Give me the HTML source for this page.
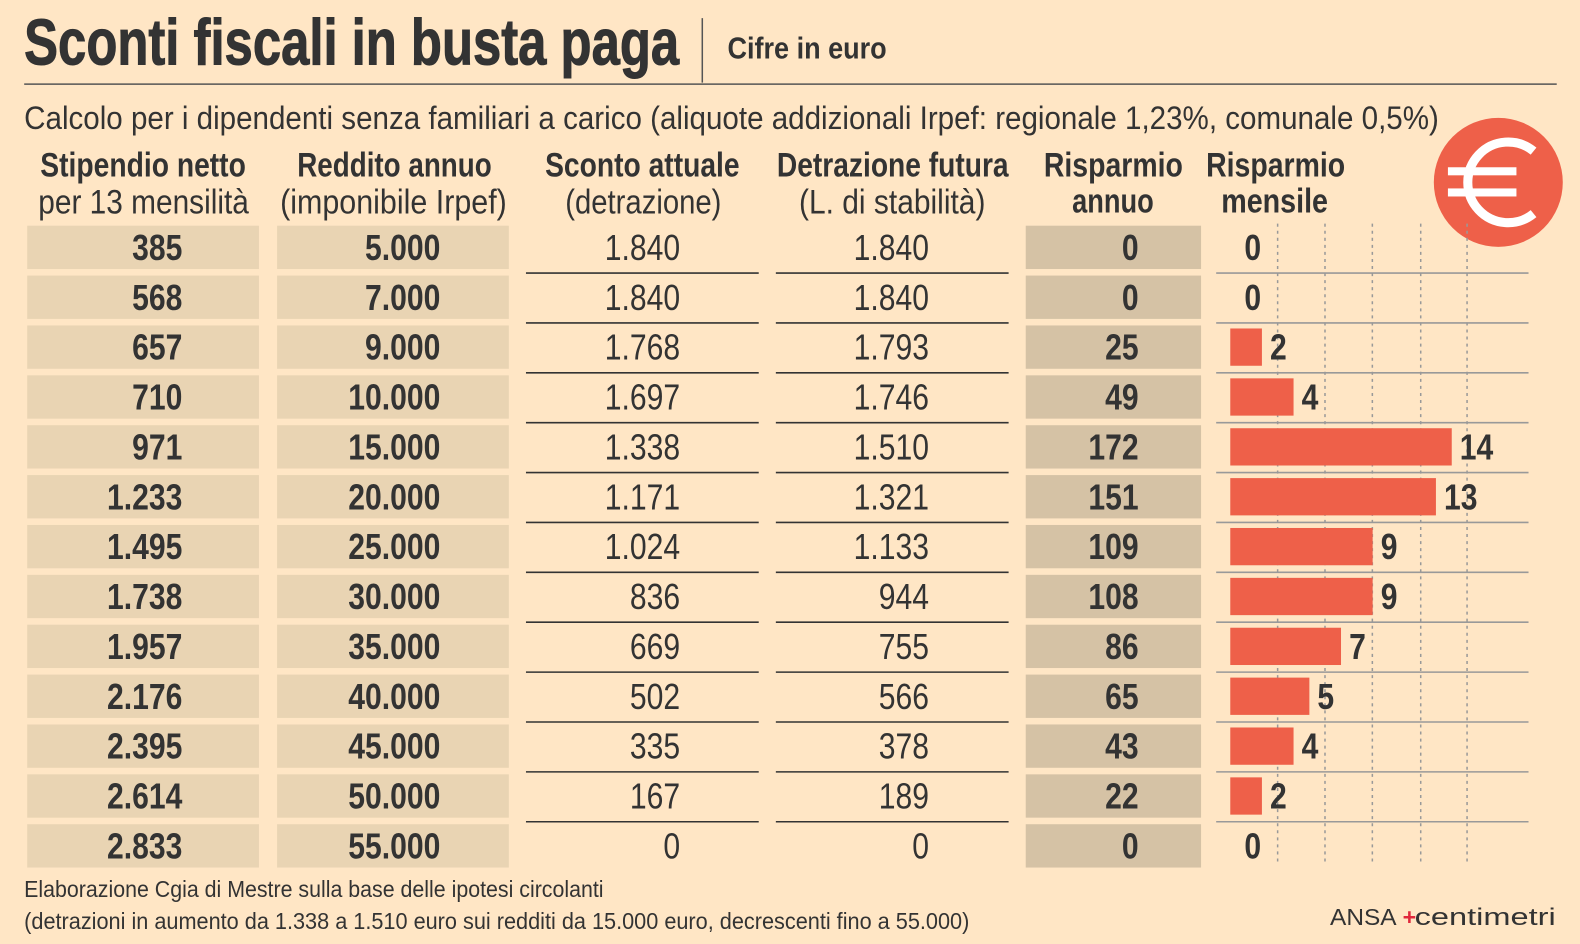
<!DOCTYPE html>
<html><head><meta charset="utf-8"><style>
html,body{margin:0;padding:0;background:#FFE6C5;}
svg{display:block;font-family:"Liberation Sans",sans-serif;}
.b{font-weight:bold;fill:#333;}
.n{fill:#333;}
</style></head><body>
<svg width="1580" height="944" viewBox="0 0 1580 944" xmlns="http://www.w3.org/2000/svg">
<rect width="1580" height="944" fill="#FFE6C5"/>
<g transform="scale(1.0076)">
<text x="24" y="64" class="b" font-size="64" textLength="650" lengthAdjust="spacingAndGlyphs" stroke="#333" stroke-width="1">Sconti fiscali in busta paga</text>
<line x1="697" y1="18" x2="697" y2="82" stroke="#555" stroke-width="1.5"/>
<text x="722" y="58" class="b" font-size="30" textLength="158" lengthAdjust="spacingAndGlyphs">Cifre in euro</text>
<line x1="24" y1="83.5" x2="1545" y2="83.5" stroke="#555" stroke-width="1.5"/>
<text x="24" y="128" class="n" font-size="32" textLength="1404" lengthAdjust="spacingAndGlyphs">Calcolo per i dipendenti senza familiari a carico (aliquote addizionali Irpef: regionale 1,23%, comunale 0,5%)</text>

<g font-size="34">
<text x="40" y="175" class="b" textLength="204" lengthAdjust="spacingAndGlyphs">Stipendio netto</text>
<text x="38" y="212" class="n" textLength="209" lengthAdjust="spacingAndGlyphs">per 13 mensilità</text>
<text x="295" y="175" class="b" textLength="193" lengthAdjust="spacingAndGlyphs">Reddito annuo</text>
<text x="278" y="212" class="n" textLength="225" lengthAdjust="spacingAndGlyphs">(imponibile Irpef)</text>
<text x="541" y="175" class="b" textLength="193" lengthAdjust="spacingAndGlyphs">Sconto attuale</text>
<text x="561" y="212" class="n" textLength="155" lengthAdjust="spacingAndGlyphs">(detrazione)</text>
<text x="771" y="175" class="b" textLength="230" lengthAdjust="spacingAndGlyphs">Detrazione futura</text>
<text x="793" y="212" class="n" textLength="185" lengthAdjust="spacingAndGlyphs">(L. di stabilità)</text>
<text x="1036" y="175" class="b" textLength="138" lengthAdjust="spacingAndGlyphs">Risparmio</text>
<text x="1064" y="211" class="b" textLength="81" lengthAdjust="spacingAndGlyphs">annuo</text>
<text x="1197" y="175" class="b" textLength="138" lengthAdjust="spacingAndGlyphs">Risparmio</text>
<text x="1212" y="211" class="b" textLength="106" lengthAdjust="spacingAndGlyphs">mensile</text>
</g>

<circle cx="1487" cy="181" r="64" fill="#EE6049"/>
<path d="M1522 150 A40 40 0 1 0 1522 212" fill="none" stroke="#fff" stroke-width="9"/>
<rect x="1437" y="166" width="68" height="8" fill="#fff"/>
<rect x="1437" y="187" width="68" height="8" fill="#fff"/>

<g stroke="#999" stroke-width="1.5" stroke-dasharray="3 4">
<line x1="1268" y1="222" x2="1268" y2="858"/>
<line x1="1315" y1="222" x2="1315" y2="858"/>
<line x1="1362" y1="222" x2="1362" y2="858"/>
<line x1="1410" y1="222" x2="1410" y2="858"/>
<line x1="1456" y1="222" x2="1456" y2="858"/>
</g>

<g id="rows"></g>

<text x="24" y="890" class="n" font-size="23" textLength="575" lengthAdjust="spacingAndGlyphs">Elaborazione Cgia di Mestre sulla base delle ipotesi circolanti</text>
<text x="24" y="922" class="n" font-size="23" textLength="938" lengthAdjust="spacingAndGlyphs">(detrazioni in aumento da 1.338 a 1.510 euro sui redditi da 15.000 euro, decrescenti fino a 55.000)</text>
<text x="1320" y="918" class="n" font-size="23" textLength="66" lengthAdjust="spacingAndGlyphs">ANSA</text>
<text x="1392" y="918" font-size="23" fill="#E0283C" font-weight="bold">+</text>
<text x="1404" y="918" class="n" font-size="24" textLength="140" lengthAdjust="spacingAndGlyphs">centimetri</text>
</g>
</svg>
<script>
var d=[["385","5.000","1.840","1.840","0",0],["568","7.000","1.840","1.840","0",0],["657","9.000","1.768","1.793","25",2],["710","10.000","1.697","1.746","49",4],["971","15.000","1.338","1.510","172",14],["1.233","20.000","1.171","1.321","151",13],["1.495","25.000","1.024","1.133","109",9],["1.738","30.000","836","944","108",9],["1.957","35.000","669","755","86",7],["2.176","40.000","502","566","65",5],["2.395","45.000","335","378","43",4],["2.614","50.000","167","189","22",2],["2.833","55.000","0","0","0",0]];
var s="";
function t(x,y,txt,bold,anchor){return '<text transform="translate('+x+','+y+') scale(0.83,1)" text-anchor="'+anchor+'" font-size="36" class="'+(bold?'b':'n')+'">'+txt+'</text>';}
d.forEach(function(r,i){
 var c=245+i*49.5, by=c+13;
 s+='<rect x="27" y="'+(c-21)+'" width="230" height="43" fill="#E9D4B3"/>';
 s+='<rect x="275" y="'+(c-21)+'" width="230" height="43" fill="#E9D4B3"/>';
 s+='<rect x="1018" y="'+(c-21)+'" width="174" height="43" fill="#D5C2A5"/>';
 s+=t(181,by,r[0],1,"end")+t(437,by,r[1],1,"end")+t(675,by,r[2],0,"end")+t(922,by,r[3],0,"end")+t(1130,by,r[4],1,"end");
 if(i<12){var ly=c+26;
  s+='<line x1="522" y1="'+ly+'" x2="753" y2="'+ly+'" stroke="#333" stroke-width="1.5"/>';
  s+='<line x1="770" y1="'+ly+'" x2="1001" y2="'+ly+'" stroke="#333" stroke-width="1.5"/>';
  s+='<line x1="1207" y1="'+ly+'" x2="1517" y2="'+ly+'" stroke="#999" stroke-width="1.5"/>';}
 var v=r[5];
 if(v>0){var w=v*15.7;
  s+='<rect x="1221" y="'+(c-18)+'" width="'+w+'" height="37" fill="#EE6049"/>';
  s+=t(1221+w+8,by,String(v),1,"start");}
 else s+=t(1235,by,"0",1,"start");
});
document.getElementById("rows").innerHTML=s;
</script>
</body></html>
